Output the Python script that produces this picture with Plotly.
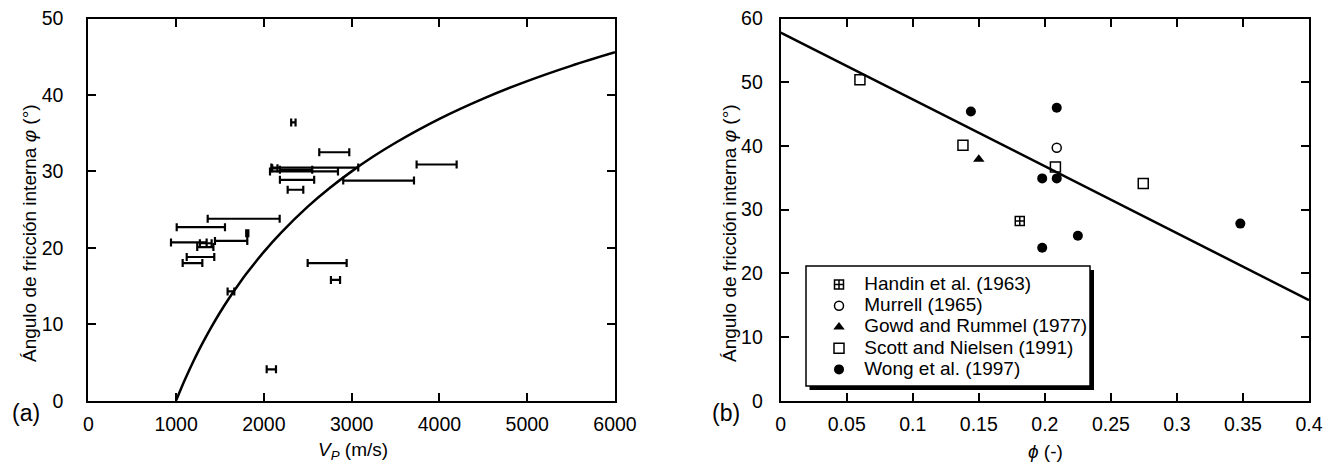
import plotly.graph_objects as go

# ---------------- Panel (a) data ----------------
vp = [2336, 2802, 3968, 2580, 2457, 2367, 2125, 2378, 3307, 2360, 1770, 1282,
      1811, 1627, 1145, 1338, 1333, 1278, 1187, 2721, 2816, 1625, 2085]
phi_a = [36.4, 32.5, 30.9, 30.5, 30.0, 30.2, 30.4, 28.9, 28.8, 27.6, 23.8, 22.7,
         21.9, 20.9, 20.7, 20.6, 20.1, 18.8, 18.0, 18.0, 15.8, 14.3, 4.1]
vp_err = [25, 171, 228, 495, 387, 184, 30, 195, 403, 89, 410, 275,
          12, 184, 203, 67, 92, 157, 112, 222, 52, 38, 53]

curve_vp = [1000, 1050, 1100, 1200, 1250, 1300, 1400, 1500, 1600, 1750, 1800, 2000,
            2200, 2500, 2750, 3000, 3250, 3500, 4000, 4500, 5000, 5500, 6000]
curve_phi = [0.0, 1.40, 2.73, 5.22, 6.38, 7.49, 9.59, 11.54, 13.34, 15.83, 16.60, 19.47,
             22.02, 25.38, 27.82, 30.0, 31.97, 33.75, 36.87, 39.52, 41.81, 43.81, 45.58]

# ---------------- Panel (b) data ----------------
handin_x, handin_y = [0.181], [28.2]
murrell_x, murrell_y = [0.209], [39.7]
gowd_x, gowd_y = [0.150], [37.9]
scott_x = [0.060, 0.138, 0.208, 0.2745]
scott_y = [50.4, 40.1, 36.7, 34.1]
wong_x = [0.144, 0.209, 0.198, 0.209, 0.198, 0.225, 0.348]
wong_y = [45.4, 46.0, 34.9, 34.9, 24.0, 25.9, 27.8]
fit_x = [0.0, 0.4]
fit_y = [57.8, 15.8]

legend_names = ["Handin et al. (1963)", "Murrell (1965)", "Gowd and Rummel (1977)",
                "Scott and Nielsen (1991)", "Wong et al. (1997)"]

FONT = "Liberation Sans, Arial, sans-serif"
W, H = 1333, 464


def lname(s):
    return '<span style="font-size:19px">&nbsp;' + s + '</span>'


fig = go.Figure()

fig.add_trace(go.Scatter(
    x=vp, y=phi_a, mode="markers", marker=dict(size=1, color="black"),
    error_x=dict(type="data", array=vp_err, color="black", thickness=2.2, width=4),
    showlegend=False, xaxis="x", yaxis="y"))
fig.add_trace(go.Scatter(
    x=curve_vp, y=curve_phi, mode="lines", line=dict(color="black", width=2.5, shape="spline"),
    showlegend=False, xaxis="x", yaxis="y"))

fig.add_trace(go.Scatter(
    x=fit_x, y=fit_y, mode="lines", line=dict(color="black", width=2.5),
    showlegend=False, xaxis="x2", yaxis="y2"))

mk_line = dict(color="black", width=1.5)
fig.add_trace(go.Scatter(x=handin_x, y=handin_y, mode="markers", name=lname(legend_names[0]),
                         marker=dict(symbol="square-cross-open", size=9, color="black", line=mk_line),
                         xaxis="x2", yaxis="y2"))
fig.add_trace(go.Scatter(x=murrell_x, y=murrell_y, mode="markers", name=lname(legend_names[1]),
                         marker=dict(symbol="circle-open", size=9, color="black", line=mk_line),
                         xaxis="x2", yaxis="y2"))
fig.add_trace(go.Scatter(x=gowd_x, y=gowd_y, mode="markers", name=lname(legend_names[2]),
                         marker=dict(symbol="triangle-up", size=10, color="black"),
                         xaxis="x2", yaxis="y2"))
fig.add_trace(go.Scatter(x=scott_x, y=scott_y, mode="markers", name=lname(legend_names[3]),
                         marker=dict(symbol="square-open", size=10, color="black", line=mk_line),
                         xaxis="x2", yaxis="y2"))
fig.add_trace(go.Scatter(x=wong_x, y=wong_y, mode="markers", name=lname(legend_names[4]),
                         marker=dict(symbol="circle", size=10, color="black"),
                         xaxis="x2", yaxis="y2"))

tickfont = dict(family=FONT, size=19.5, color="black")
axcommon = dict(showgrid=False, zeroline=False, showline=True, linecolor="black", linewidth=2,
                mirror="ticks", ticks="inside", ticklen=8, tickwidth=1.5, tickcolor="black",
                tickfont=tickfont, automargin=False)

x1d = [88.3 / W, 615 / W]
x2d = [780.7 / W, 1309 / W]
yd = [(H - 400.7) / H, (H - 18.5) / H]

fig.update_layout(
    width=W, height=H, margin=dict(l=0, r=0, t=0, b=0, pad=0, autoexpand=False),
    paper_bgcolor="white", plot_bgcolor="white",
    font=dict(family=FONT, color="black"),
    xaxis=dict(domain=x1d, range=[0, 6000], dtick=1000, tick0=0, anchor="y",
               ticklabelstandoff=5, **axcommon),
    yaxis=dict(domain=yd, range=[0, 50], dtick=10, tick0=0, anchor="x",
               ticklabelstandoff=19, **axcommon),
    xaxis2=dict(domain=x2d, range=[0, 0.4], dtick=0.05, tick0=0, anchor="y2",
                ticklabelstandoff=5, **axcommon),
    yaxis2=dict(domain=yd, range=[0, 60], dtick=10, tick0=0, anchor="x2",
                ticklabelstandoff=12, **axcommon),
    showlegend=True,
    legend=dict(x=819 / W, y=1 - 269 / H, xanchor="left", yanchor="top",
                bgcolor="rgba(0,0,0,0)", borderwidth=0,
                font=dict(family=FONT, size=14, color="black"),
                tracegroupgap=0),
)

ann = [
    dict(text="Ángulo de fricción interna <i>φ</i> (°)", x=29 / W, y=1 - 233 / H, textangle=-90),
    dict(text="Ángulo de fricción interna <i>φ</i> (°)", x=729 / W, y=1 - 233 / H, textangle=-90),
    dict(text="<i>V<sub>P</sub></i> (m/s)", x=352.5 / W, y=1 - 451 / H),
    dict(text="<i>ϕ</i> (-)", x=1045 / W, y=1 - 451 / H),
]
for a in ann:
    fig.add_annotation(xref="paper", yref="paper", showarrow=False, xanchor="center",
                       yanchor="middle", font=dict(family=FONT, size=19, color="black"), **a)
for t, xx in [("(a)", 26), ("(b)", 726)]:
    fig.add_annotation(text=t, xref="paper", yref="paper", x=xx / W, y=1 - 413 / H,
                       showarrow=False, xanchor="center", yanchor="middle",
                       font=dict(family=FONT, size=23, color="black"))

# legend box with drop shadow
fig.add_shape(type="rect", xref="paper", yref="paper",
              x0=809.5 / W, x1=1094 / W, y0=1 - 390 / H, y1=1 - 270 / H,
              fillcolor="black", line=dict(width=0), layer="above")
fig.add_shape(type="rect", xref="paper", yref="paper",
              x0=806 / W, x1=1090 / W, y0=1 - 386 / H, y1=1 - 266 / H,
              fillcolor="white", line=dict(color="black", width=1.5), layer="above")

fig.write_html("out.html")
